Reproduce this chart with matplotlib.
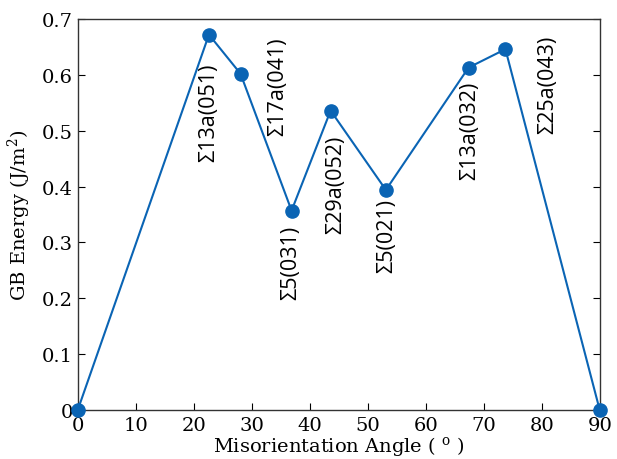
import matplotlib
matplotlib.use("Agg")
import matplotlib.pyplot as plt

# misorientation angle (deg) and GB energy (J/m^2)
angles = [0.0, 22.62, 28.07, 36.87, 43.60, 53.13, 67.38, 73.74, 90.0]
energy = [0.0, 0.672, 0.602, 0.357, 0.536, 0.394, 0.613, 0.646, 0.0]

# boundary labels with text anchor (x, top of text in data units)
gb_labels = ["Σ13a(051)", "Σ17a(041)", "Σ5(031)", "Σ29a(052)",
             "Σ5(021)", "Σ13a(032)", "Σ25a(043)"]
label_x = [22.6, 34.5, 36.8, 44.4, 53.3, 67.6, 81.0]
label_top = [0.622, 0.668, 0.332, 0.493, 0.380, 0.590, 0.672]

x_ticks = list(range(0, 91, 10))
y_ticks = [0, 0.1, 0.2, 0.3, 0.4, 0.5, 0.6, 0.7]
y_ticklabels = ["0", "0.1", "0.2", "0.3", "0.4", "0.5", "0.6", "0.7"]

plt.rcParams["font.family"] = ["DejaVu Serif"]
plt.rcParams["mathtext.fontset"] = "dejavuserif"

fig = plt.figure(figsize=(6.17, 4.60), dpi=100)
ax = fig.add_axes([0.126, 0.1065, 0.846, 0.85])

ax.plot(angles, energy, color="#0a64b4", linewidth=1.5, marker="o",
        markersize=9.5, clip_on=False, zorder=3)

for lab, lx, ly in zip(gb_labels, label_x, label_top):
    ax.text(lx, ly, lab, rotation=90, ha="center", va="top",
            fontsize=15.5, family=["Open Sans", "DejaVu Sans"])

ax.set_xlim(0, 90)
ax.set_ylim(0, 0.7)
ax.set_xticks(x_ticks)
ax.set_yticks(y_ticks)
ax.set_yticklabels(y_ticklabels)
ax.tick_params(direction="in", length=5, labelsize=14, right=True, top=False)
ax.tick_params(axis="x", pad=4)
ax.set_xlabel(r"Misorientation Angle ( $^{\rm o}$ )", fontsize=14, labelpad=0)
ax.set_ylabel(r"GB Energy (J/m$^2$)", fontsize=14, labelpad=6)
for s in ax.spines.values():
    s.set_linewidth(1.0)
    s.set_color("#333333")

fig.savefig("out.png", dpi=100)
